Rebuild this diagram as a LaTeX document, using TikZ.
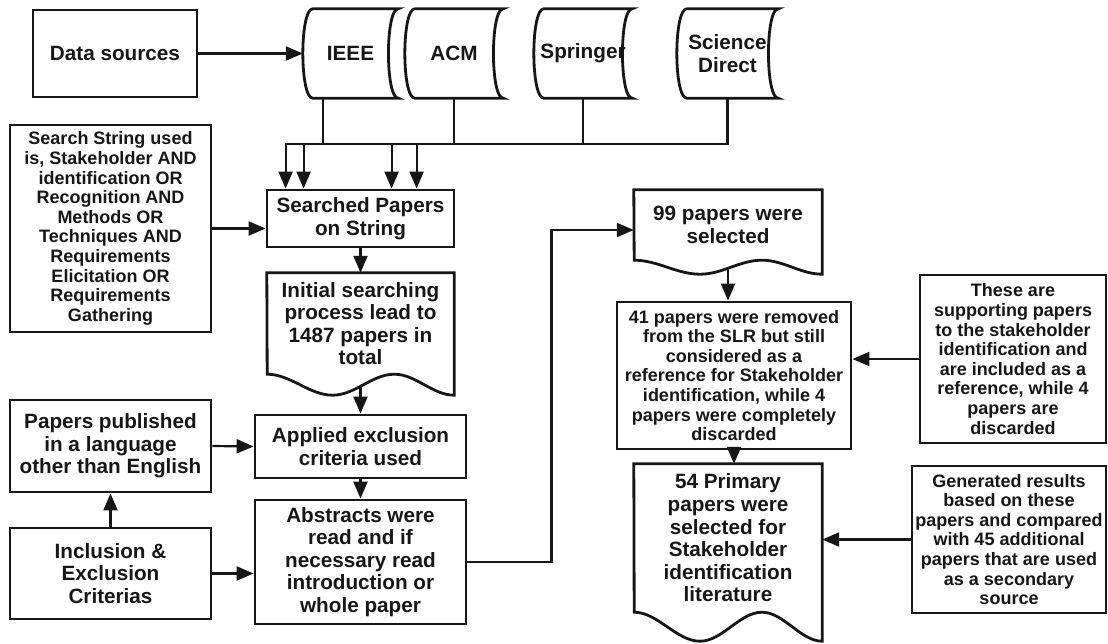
\documentclass[tikz,border=0pt]{standalone}
\usepackage{fontspec}
\setmainfont{Liberation Sans}
\usepackage{tikz}
\usetikzlibrary{arrows.meta,calc}
\definecolor{inkline}{RGB}{22,22,22}

\begin{document}
\begin{tikzpicture}[x=1pt,y=-1pt,
  every node/.style={font=\fontsize{20.7}{22.6}\selectfont\bfseries,align=center,inner sep=0pt,text=inkline},
  small/.style={font=\fontsize{18}{19.6}\selectfont\bfseries},
  box/.style={draw=inkline,line width=2.8pt},
  arr/.style={draw=inkline,line width=2.2pt,-{Triangle[length=17pt,width=14pt]}},
  line join=miter]
  \useasboundingbox (0,0) rectangle (1108,643);
  % data sources
  \node[box,minimum width=164pt,minimum height=87pt] (src) at (115,53.5) {Data sources};
  \node[minimum width=95pt,minimum height=89pt] (ieee) at (350.5,53.5) {IEEE};
  \node[minimum width=98pt,minimum height=89pt] (acm) at (454,53.5) {ACM};
  \node[minimum width=98pt,minimum height=89pt] (springer) at (583,53.5) {Springer};
  \node[minimum width=101pt,minimum height=89pt] (sdirect) at (727.5,53.5) {Science\\Direct};
  \foreach \n in {ieee,acm,springer,sdirect}
    \draw[box] ([xshift=10pt]\n.north west) -- (\n.north east)
      .. controls ([xshift=-13pt]\n.north east) and ([xshift=-13pt]\n.south east) .. (\n.south east)
      -- ([xshift=10pt]\n.south west)
      .. controls ([xshift=-3.3pt]\n.south west) and ([xshift=-3.3pt]\n.north west) .. cycle;
  % left column
  \node[box,small,minimum width=201pt,minimum height=207pt] (sstring) at (110.5,228.5)
    {Search String used\\is, Stakeholder AND\\identification OR\\Recognition AND\\Methods OR\\Techniques AND\\Requirements\\Elicitation OR\\Requirements\\Gathering};
  \node[box,minimum width=201pt,minimum height=92pt] (pubs) at (110.5,446)
    {Papers published\\in a language\\other than English};
  \node[box,minimum width=201pt,minimum height=91pt] (incl) at (110.5,573.5)
    {Inclusion \&\\Exclusion\\Criterias};
  % middle column
  \node[box,minimum width=187pt,minimum height=57pt] (search) at (360.5,218.5) {Searched Papers\\on String};
  \node[minimum width=187pt,minimum height=101pt] (initial) at (360.5,323.5)
    {Initial searching\\process lead to\\1487 papers in\\total};
  \node[box,minimum width=211pt,minimum height=63pt] (applied) at (360.5,446.5) {Applied exclusion\\criteria used};
  \node[box,minimum width=211pt,minimum height=124pt] (abstracts) at (360.5,562)
    {Abstracts were\\read and if\\necessary read\\introduction or\\whole paper};
  % right column
  \node[minimum width=188pt,minimum height=70pt] (sel) at (728,225) {99 papers were\\selected};
  \node[box,small,minimum width=234pt,minimum height=147pt] (removed) at (734,375.5)
    {41 papers were removed\\from the SLR but still\\considered as a\\reference for Stakeholder\\identification, while 4\\papers were completely\\discarded};
  \node[minimum width=188pt,minimum height=148pt] (primary) at (728,538)
    {54 Primary\\papers were\\selected for\\Stakeholder\\identification\\literature};
  \node[box,small,minimum width=186pt,minimum height=168pt] (these) at (1013,359)
    {These are\\supporting papers\\to the stakeholder\\identification and\\are included as a\\reference, while 4\\papers are\\discarded};
  \node[box,small,minimum width=194pt,minimum height=147pt] (gen) at (1009,539.5)
    {Generated results\\based on these\\papers and compared\\with 45 additional\\papers that are used\\as a secondary\\source};
  % document shapes
  \foreach \n/\w/\a in {initial/187/21,sel/188/14,primary/188/29}
    \draw[box] (\n.north west) -- (\n.north east) -- ($(\n.south east)+(0,\a)$)
      .. controls +(-0.115*\w,0) and +(0.115*\w,0) .. ++(-0.32*\w,-\a)
      .. controls +(-0.12*\w,0) and +(0.12*\w,0) .. ++(-0.33*\w,\a)
      .. controls +(-0.125*\w,0) and +(0.125*\w,0) .. ++(-0.35*\w,-\a) -- cycle;
  % connectors
  \draw[arr] (src.east) -- (ieee.west);
  \draw[arr] ([xshift=-27.5pt]ieee.south) -- ++(0,46) -| ([xshift=20pt]search.north west);
  \draw[arr] (acm.south) -- ++(0,46) -| ([xshift=38pt]search.north west);
  \draw[arr] (springer.south) -- ++(0,46) -| ([xshift=126pt]search.north west);
  \draw[arr] (sdirect.south) -- ++(0,46) -| ([xshift=151pt]search.north west);
  \draw[arr] (sstring.east) -- (sstring.east -| search.west);
  \draw[arr] (search.south) -- (initial.north);
  \draw[arr] ([yshift=-12pt]initial.south) -- (applied.north);
  \draw[arr] (pubs.east) -- (applied.west);
  \draw[arr] (incl.north) -- (pubs.south);
  \draw[arr] (incl.east) -- (incl.east -| abstracts.west);
  \draw[arr] (applied.south) -- (abstracts.north);
  \draw[arr] (abstracts.east) -- ++(84,0) |- ([yshift=-5pt]sel.west);
  \draw[arr] ([yshift=-8pt]sel.south) -- (sel.south |- removed.north);
  \draw[arr] (removed.south) -- (removed.south |- primary.north);
  \draw[arr] (these.west) -- (these.west -| removed.east);
  \draw[arr] (gen.west) -- (gen.west -| primary.east);
\end{tikzpicture}
\end{document}
